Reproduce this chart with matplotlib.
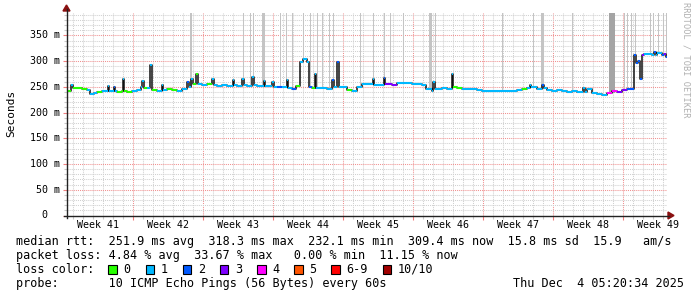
import matplotlib
matplotlib.use("Agg")
import matplotlib.pyplot as plt
import numpy as np
from matplotlib.lines import Line2D
from matplotlib.patches import Rectangle, Polygon
from matplotlib.transforms import blended_transform_factory

W, H = 697, 297
MONO = "DejaVu Sans Mono"

# median rtt in ms, stepping at these days since the start of the graph
rtt_days = [0.0, 0.4, 0.55, 1.0, 1.5, 2.0, 2.3, 2.7, 3.0, 3.5, 4.05, 4.2, 4.65, 4.8, 5.0, 5.5,
            5.55, 5.7, 6.0, 6.5, 7.0, 7.35, 7.5, 7.7, 8.0, 8.3, 8.45, 9.0, 9.45, 9.6, 10.0, 10.5,
            11.0, 11.5, 12.0, 12.15, 12.4, 12.55, 12.9, 13.05, 13.5, 14.0, 14.5, 14.65, 15.0, 15.5,
            16.0, 16.55, 16.7, 17.0, 17.5, 17.65, 18.0, 18.5, 18.65, 19.0, 19.65, 19.8, 20.5, 20.65,
            21.0, 21.5, 21.95, 22.1, 22.5, 22.9, 23.25, 23.6, 24.0, 24.2, 24.5, 24.75, 24.9, 25.5,
            26.0, 26.5, 26.65, 27.0, 27.2, 27.5, 28.0, 28.5, 29.0, 29.5, 30.0, 30.55, 30.7, 31.0,
            31.5, 31.65, 31.8, 32.5, 33.0, 33.5, 34.0, 34.5, 35.0, 35.5, 35.9, 36.5, 36.6, 36.75,
            37.0, 37.5, 38.0, 38.45, 38.6, 39.0, 39.5, 40.0, 40.5, 41.0, 41.5, 42.0, 42.5, 43.0,
            43.5, 44.0, 44.5, 45.0, 45.5, 46.0, 46.25, 46.4, 47.0, 47.5, 47.65, 48.0, 48.5, 49.0,
            49.5, 50.0, 50.5, 51.0, 51.6, 51.8, 52.0, 52.5, 53.0, 53.5, 54.0, 54.5, 55.0, 55.5,
            56.0, 56.4, 56.7, 56.9, 57.1, 57.25, 57.45, 57.7, 58.0, 58.5, 58.7, 58.9, 59.0, 59.5,
            59.7, 59.85]
rtt_ms = [243, 253, 248, 247, 246, 244, 237, 239, 240, 242, 251, 243, 250, 242, 241, 242,
          266, 242, 240, 242, 244, 250, 261, 247, 248, 292, 244, 243, 253, 244, 245, 244,
          243, 246, 260, 250, 266, 256, 276, 255, 253, 255, 265, 254, 252, 253,
          252, 263, 254, 252, 266, 253, 252, 269, 253, 251, 261, 251, 260, 250,
          249, 250, 263, 248, 246, 252, 299, 305, 299, 250, 247, 276, 247, 247,
          246, 263, 249, 299, 249, 249, 244, 243, 250, 256, 256, 265, 254, 254,
          253, 268, 255, 254, 258, 257, 258, 256, 255, 253, 245, 243, 260, 245,
          245, 247, 246, 276, 250, 248, 246, 245, 246, 244, 243, 242, 242, 243,
          242, 243, 242, 244, 246, 247, 253, 250, 245, 253, 248, 244, 243, 244,
          243, 241, 242, 240, 248, 241, 245, 239, 236, 234, 238, 242, 240, 244,
          246, 245, 312, 296, 300, 265, 312, 314, 314, 313, 317, 313, 316, 312,
          314, 309]
# lost pings (of 10) for each step, index into loss_colors
rtt_loss = [0, 1, 0, 0, 0, 1, 1, 1, 0, 1, 1, 1, 2, 1, 0, 0,
            1, 0, 0, 1, 1, 1, 1, 0, 1, 1, 0, 1, 1, 1, 0, 0,
            1, 1, 2, 1, 1, 0, 0, 1, 1, 0, 1, 1, 1, 1,
            1, 1, 1, 1, 1, 1, 1, 1, 1, 1, 1, 1, 1, 1,
            2, 1, 1, 1, 2, 0, 1, 1, 1, 2, 0, 1, 1, 1,
            1, 2, 1, 2, 1, 1, 0, 1, 1, 1, 1, 1, 1, 1,
            1, 2, 3, 3, 1, 1, 1, 1, 1, 1, 1, 1, 1, 1,
            1, 1, 1, 1, 0, 0, 1, 1, 1, 1, 1, 1, 1, 1,
            1, 1, 1, 1, 0, 1, 1, 1, 1, 2, 1, 1, 1, 1,
            1, 1, 1, 1, 1, 1, 1, 1, 1, 1, 4, 4, 3, 3,
            2, 2, 2, 2, 2, 2, 3, 1, 1, 1, 2, 1, 1, 2,
            3, 2]
graph_days = 60.0

# smoke: periods where the slowest pings went off the top of the graph
smoke_start = [12.25, 17.55, 18.25, 18.55, 19.45, 21.25, 21.85, 22.45, 23.55, 24.25, 24.95,
               25.45, 26.15, 26.55, 29.25, 30.55, 31.65, 32.25, 33.55, 36.2, 36.75, 43.45,
               46.55, 47.4, 50.45, 54.2, 55.65, 56.0, 56.4, 56.75, 58.25, 58.6, 59.1, 59.55, 59.9]
smoke_end = [12.5, 17.67, 18.37, 18.67, 19.75, 21.37, 21.97, 22.57, 23.67, 24.37, 25.07,
             25.57, 26.27, 26.67, 29.4, 30.67, 31.77, 32.37, 33.67, 36.45, 36.87, 43.57,
             46.67, 47.7, 50.57, 54.75, 55.77, 56.12, 56.52, 56.87, 58.37, 58.72, 59.22, 59.67, 60.0]
smoke_dark = [s == 54.2 for s in smoke_start]

week_numbers = [41, 42, 43, 44, 45, 46, 47, 48, 49]
first_week_line = 6.63   # Monday of week 42, in days after the graph start
y_top = 393.7

loss_labels = ["0", "1", "2", "3", "4", "5", "6-9", "10/10"]
loss_colors = ["#26ff00", "#00b8ff", "#0059ff", "#7e00ff", "#ff00ff", "#ff5500", "#ff0000", "#a10000"]

rtt_avg, rtt_max, rtt_min, rtt_now, rtt_sd, rtt_ams = 251.9, 318.3, 232.1, 309.4, 15.8, 15.9
loss_avg, loss_max, loss_min, loss_now = 4.84, 33.67, 0.00, 11.15
probe_text = "10 ICMP Echo Pings (56 Bytes) every 60s"
stamp_text = "Thu Dec  4 05:20:34 2025"


def fx(x):
    return x / W


def fy(y):
    return 1 - y / H


fig = plt.figure(figsize=(W / 100, H / 100), dpi=100)
fig.patch.set_facecolor("white")
ax = fig.add_axes([fx(67), fy(215.5), 600 / W, 202.5 / H])
ax.set_xlim(0, graph_days)
ax.set_ylim(0, y_top)
for s in ax.spines.values():
    s.set_visible(False)

ax.set_xticks([first_week_line + 7 * k for k in range(8)])
ax.set_xticks(np.arange(first_week_line % 1, graph_days, 1.0), minor=True)
ax.set_yticks(np.arange(0, 351, 50))
ax.set_yticks(np.arange(0, y_top, 10), minor=True)
ax.tick_params(which="both", labelleft=False, labelbottom=False, direction="out", width=0.8)
ax.tick_params(which="major", length=3, color="#f08080")
ax.tick_params(which="minor", length=2, color="#c8c8c8")
ax.grid(True, which="minor", color="#d0d0d0", linestyle=(0, (1, 1)), linewidth=0.75)
ax.grid(True, which="major", color="#f09090", linestyle=(0, (1, 1)), linewidth=0.75)
ax.set_axisbelow(True)

# smoke bars from the median up to the top
days = np.array(rtt_days)
vals = np.array(rtt_ms, dtype=float)
for s0, s1, dark in zip(smoke_start, smoke_end, smoke_dark):
    base = vals[np.searchsorted(days, s0, side="right") - 1]
    ax.bar(s0, y_top - base, width=s1 - s0, bottom=base, align="edge",
           color="#a4a4a4" if dark else "#c4c4c4", linewidth=0, antialiased=False, zorder=2)

# median line: black steps with loss coloured treads
ends = list(rtt_days[1:]) + [graph_days]
ax.step(list(rtt_days) + [graph_days], list(rtt_ms) + [rtt_ms[-1]], where="post",
        color="#111111", linewidth=1.1, zorder=3)
ax.hlines(rtt_ms, rtt_days, ends, colors=[loss_colors[i] for i in rtt_loss],
          linewidth=1.5, zorder=4)

# axes with arrows
ax_col = "#222222"
arrow_col = "#8b1010"
fig.add_artist(Line2D([fx(66.5), fx(66.5)], [fy(218), fy(9)], color=ax_col, lw=1))
fig.add_artist(Line2D([fx(64), fx(669)], [fy(215.5), fy(215.5)], color=ax_col, lw=1))
fig.add_artist(Polygon([(fx(63), fy(11)), (fx(70), fy(11)), (fx(66.5), fy(5))],
                       closed=True, color=arrow_col, transform=fig.transFigure))
fig.add_artist(Polygon([(fx(668), fy(212)), (fx(668), fy(219)), (fx(674), fy(215.5))],
                       closed=True, color=arrow_col, transform=fig.transFigure))

# y labels
ytr = blended_transform_factory(fig.transFigure, ax.transData)
for v in range(0, 351, 50):
    lab = "%3d m" % v if v else "  0"
    ax.text(fx(30), v, lab, transform=ytr, ha="left", va="center",
            family=MONO, fontsize=7.2, color="#000000")

# week labels centred in each week
xtr = blended_transform_factory(ax.transData, fig.transFigure)
for k, wk in enumerate(week_numbers):
    ax.text(first_week_line - 3.5 + 7 * k, fy(224.5), "Week %d" % wk, transform=xtr,
            ha="center", va="center", family=MONO, fontsize=7.2, clip_on=False)

fig.text(fx(11), fy(113), "Seconds", rotation=90, ha="center", va="center",
         family=MONO, fontsize=8)
fig.text(fx(686), fy(60), "RRDTOOL / TOBI OETIKER", rotation=270, ha="center", va="center",
         family=MONO, fontsize=6.2, color="#b0b0b0")

# legend block
lx = fx(16)
line1 = "median rtt:  %.1f ms avg  %.1f ms max  %.1f ms min  %.1f ms now  %.1f ms sd  %.1f   am/s" % (
    rtt_avg, rtt_max, rtt_min, rtt_now, rtt_sd, rtt_ams)
line2 = "packet loss:%5.2f %% avg  %5.2f %% max  %5.2f %% min  %5.2f %% now" % (
    loss_avg, loss_max, loss_min, loss_now)
fig.text(lx, fy(241.7), line1, ha="left", va="center", family=MONO, fontsize=8.5)
fig.text(lx, fy(255), line2, ha="left", va="center", family=MONO, fontsize=8.5)
fig.text(lx, fy(269.3), "loss color:", ha="left", va="center", family=MONO, fontsize=8.5)
fig.text(lx, fy(283.3), "probe:       " + probe_text, ha="left", va="center",
         family=MONO, fontsize=8.5)
fig.text(fx(513), fy(283.3), stamp_text, ha="left", va="center", family=MONO, fontsize=8.5)

bx = 108.3
for lab, col in zip(loss_labels, loss_colors):
    fig.add_artist(Rectangle((fx(bx), fy(274)), 8.5 / W, 9 / H, transform=fig.transFigure,
                             facecolor=col, edgecolor="#000000", linewidth=0.8))
    fig.text(fx(bx + 15), fy(269.3), lab, ha="left", va="center", family=MONO, fontsize=8.5)
    bx += 15 + 7.1 * len(lab) + 15.1

fig.savefig("out.png", dpi=100, facecolor="white")
